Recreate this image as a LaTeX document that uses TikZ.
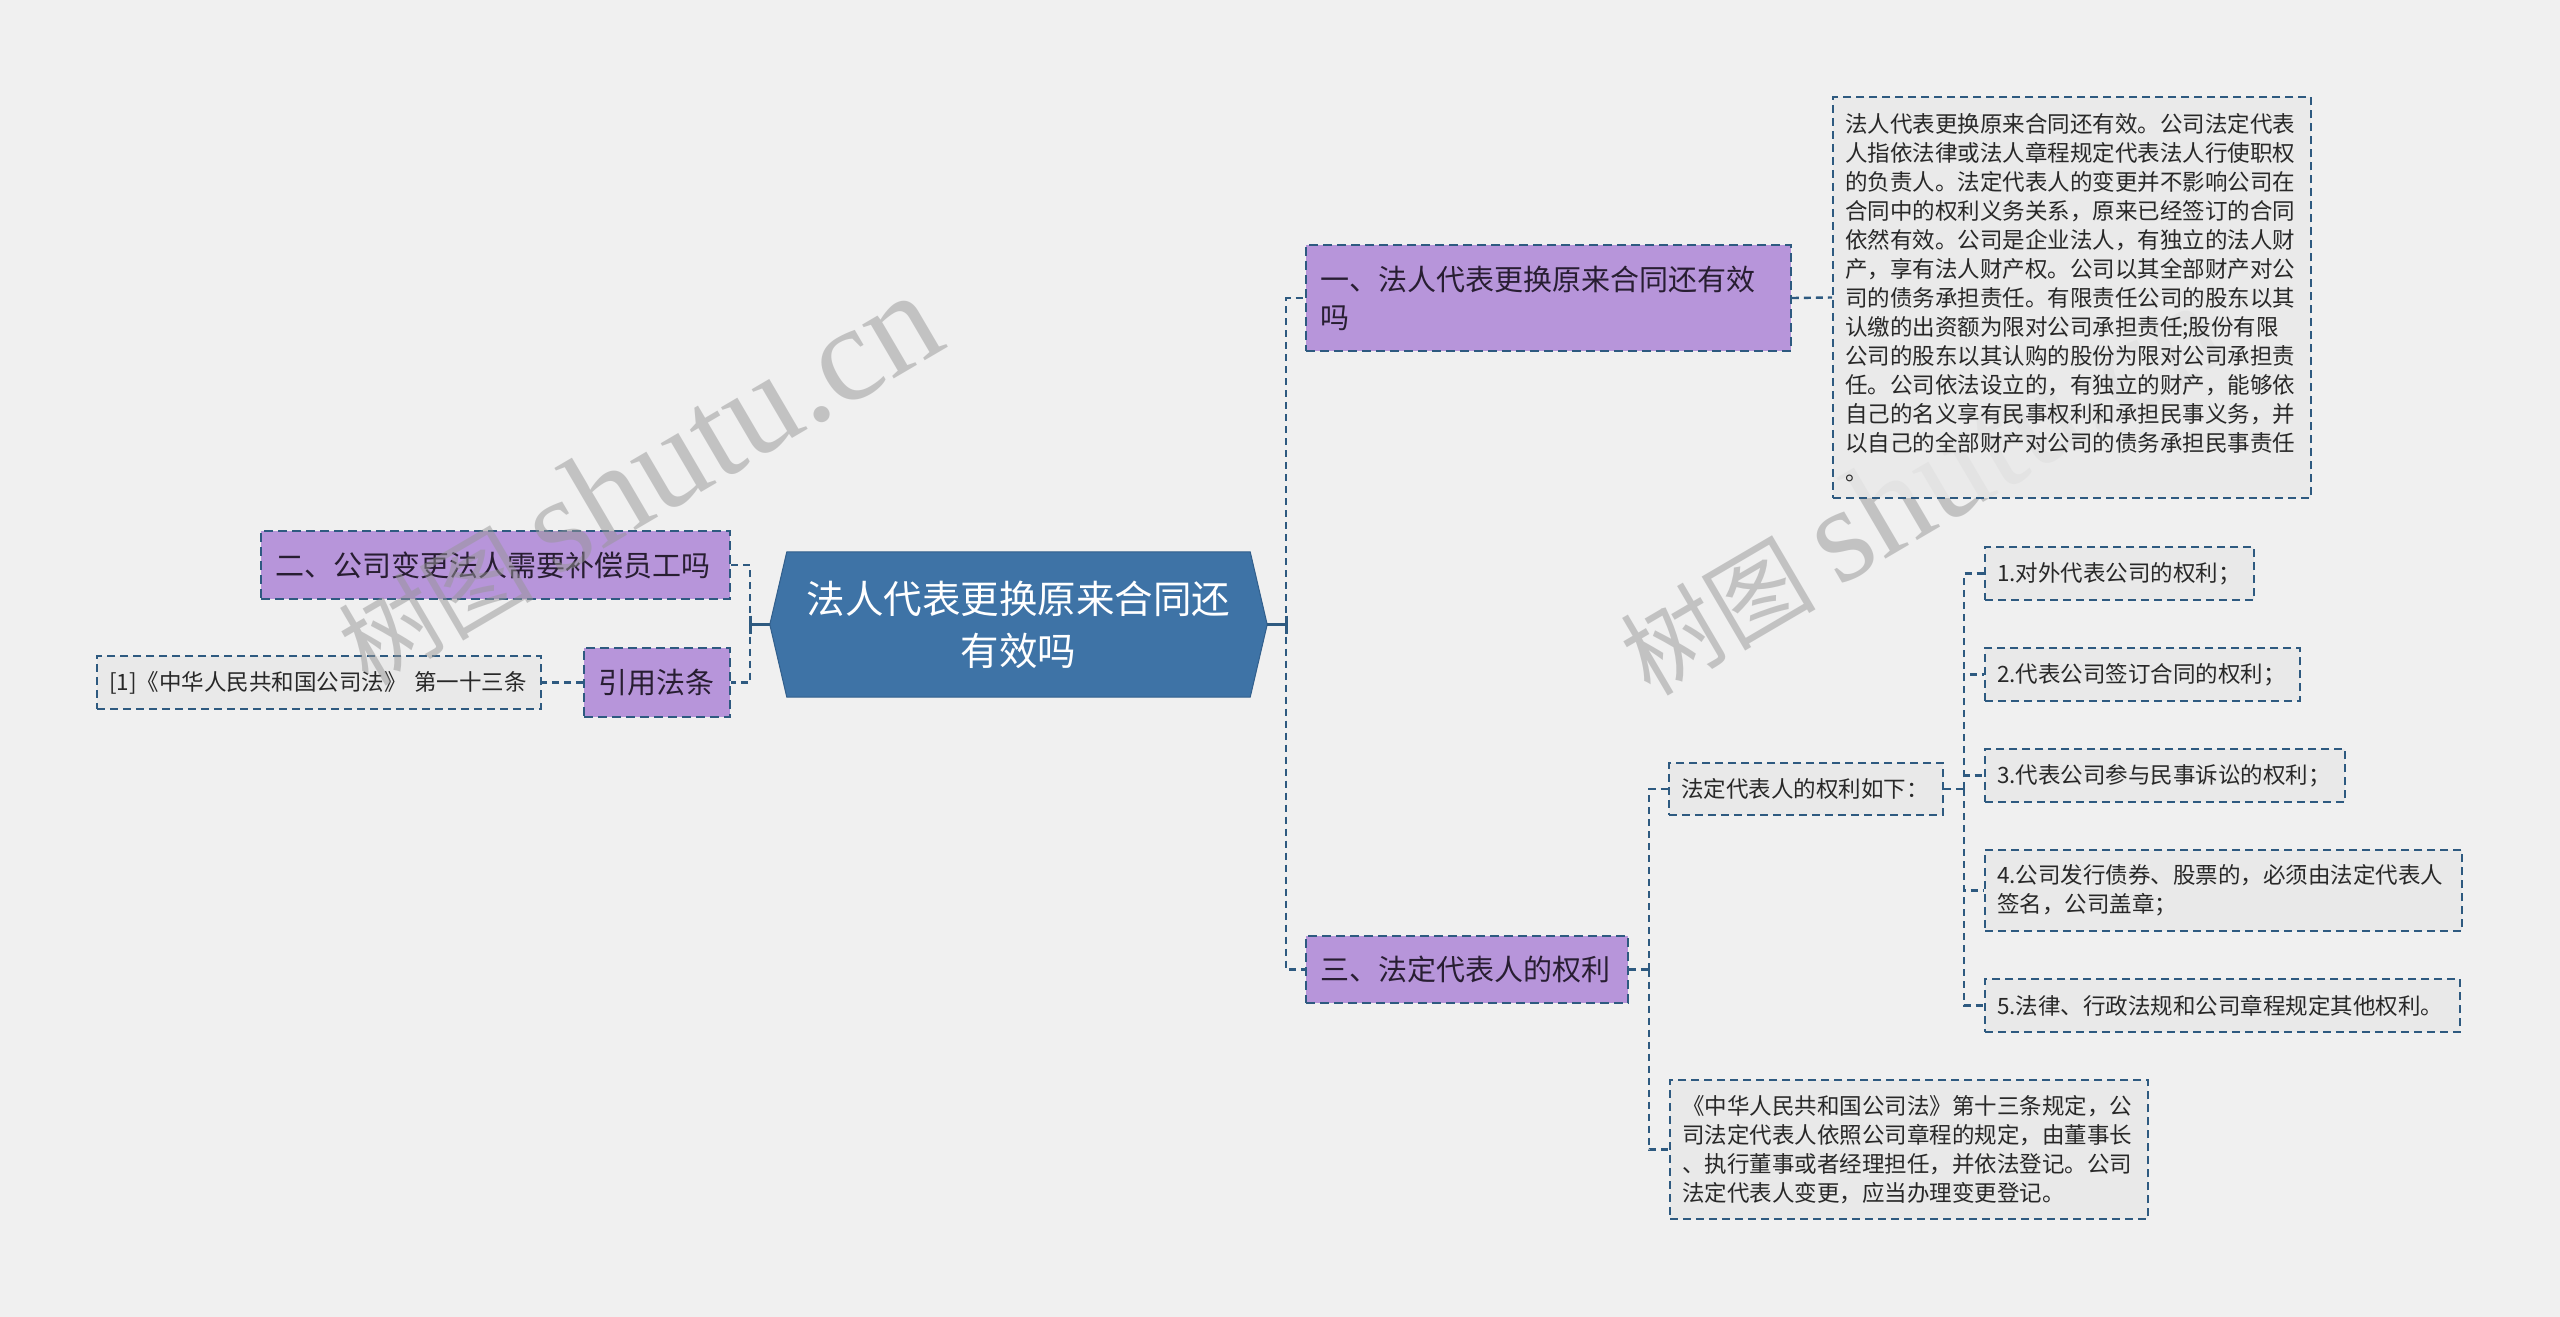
\documentclass[tikz,border=0pt]{standalone}
\usepackage{fontspec}
\setmainfont{Noto Sans CJK SC}
\newfontfamily\wmfont{Liberation Serif}
\definecolor{bgcol}{RGB}{240,240,240}
\definecolor{ctrcol}{RGB}{62,115,166}
\definecolor{ctrborder}{RGB}{50,95,140}
\definecolor{purplecol}{RGB}{183,149,218}
\definecolor{bordercol}{RGB}{46,90,128}
\definecolor{linecol}{RGB}{46,90,128}
\definecolor{leafcol}{RGB}{233,233,233}
\definecolor{ptext}{RGB}{40,30,50}
\definecolor{leaftext}{RGB}{40,40,40}
\definecolor{wmcol}{RGB}{150,150,150}
\tikzset{
  purple/.style={fill=purplecol, draw=bordercol, line width=1.8pt, dash pattern=on 9pt off 5pt,
    text=ptext, font=\fontsize{29}{38}\selectfont, inner xsep=14pt, inner ysep=0pt, align=left},
  leaf/.style={fill=leafcol, draw=bordercol, line width=1.6pt, dash pattern=on 8pt off 5pt,
    text=leaftext, font=\fontsize{22.5}{29}\selectfont, inner xsep=12pt, inner ysep=0pt, align=left},
  conn/.style={draw=linecol, line width=2.4pt, dash pattern=on 7pt off 5pt},
  stub/.style={draw=linecol, line width=3pt},
  wm/.style={text=wmcol, text opacity=0.5, inner sep=0pt},
}
\begin{document}
\begin{tikzpicture}[x=1pt,y=-1pt]
\fill[bgcol] (0,0) rectangle (2560,1317);
\useasboundingbox (0,0) rectangle (2560,1317);

% central node
\node[minimum width=497pt, minimum height=145pt, inner sep=0pt, text=white, align=center,
      font=\fontsize{38.5}{52}\selectfont] (ctr) at (1018.5,624.5) {};
\fill[ctrcol, draw=ctrborder, line width=1pt] (ctr.west) -- ([xshift=17pt]ctr.north west) -- ([xshift=-17pt]ctr.north east)
   -- (ctr.east) -- ([xshift=-17pt]ctr.south east) -- ([xshift=17pt]ctr.south west) -- cycle;
\node[text=white, align=center, font=\fontsize{38.5}{52}\selectfont, inner sep=0pt] (ctrtext) at (ctr.center) {法人代表更换原来合同还\\有效吗};

% first-level nodes
\node[purple, text width=457pt, minimum height=106pt] (n1) at (1548.5,298) {一、法人代表更换原来合同还有效\\吗};
\node[purple, text width=441pt, minimum height=68pt] (n2) at (495.5,565) {二、公司变更法人需要补偿员工吗};
\node[purple, text width=294pt, minimum height=67pt] (n3) at (1467,969.5) {三、法定代表人的权利};
\node[purple, text width=118pt, minimum height=69pt] (nq) at (657,682.5) {引用法条};

% leaves
\node[leaf, text width=420pt, minimum height=53pt] (cite) at (319,682.5) {[1]《中华人民共和国公司法》 第一十三条};
\node[leaf, text width=250pt, minimum height=52pt] (rights) at (1806,789) {法定代表人的权利如下：};
\node[leaf, text width=245pt, minimum height=53pt] (b1) at (2119.5,573.5) {1.对外代表公司的权利；};
\node[leaf, text width=291pt, minimum height=53pt] (b2) at (2142.5,674.5) {2.代表公司签订合同的权利；};
\node[leaf, text width=336pt, minimum height=53pt] (b3) at (2165,775.5) {3.代表公司参与民事诉讼的权利；};
\node[leaf, text width=453pt, minimum height=81pt] (b4) at (2223.5,890.5) {4.公司发行债券、股票的，必须由法定代表人\\签名，公司盖章；};
\node[leaf, text width=451pt, minimum height=53pt] (b5) at (2222.5,1005.5) {5.法律、行政法规和公司章程规定其他权利。};
\node[leaf, text width=454pt, minimum height=139pt] (law) at (1909,1149.5) {《中华人民共和国公司法》第十三条规定，公\\司法定代表人依照公司章程的规定，由董事长\\、执行董事或者经理担任，并依法登记。公司\\法定代表人变更，应当办理变更登记。};

% junction points
\coordinate (jl) at (750,624.5);
\coordinate (jr) at (1286,624.5);
\coordinate (j3) at (1649,969.5);
\coordinate (j4) at (1964,789);

% connectors left
\draw[stub] (ctr.west) -- (jl);
\draw[stub] ([yshift=9pt]jl) -- ([yshift=-9pt]jl);
\draw[conn] (jl) |- (n2.east);
\draw[conn] (jl) |- (nq.east);
\draw[conn] (nq.west) -- (cite.east);

% connectors right
\draw[stub] (ctr.east) -- (jr);
\draw[stub] ([yshift=9pt]jr) -- ([yshift=-9pt]jr);
\draw[conn] (jr) |- (n1.west);
\draw[conn] (jr) |- (n3.west);
\draw[conn] (n3.east) -- (j3);
\draw[conn] (j3) |- (rights.west);
\draw[conn] (j3) |- (law.west);
\draw[conn] (rights.east) -- (j4);
\draw[conn] (j4) |- (b1.west);
\draw[conn] (j4) |- (b2.west);
\draw[conn] (j4) |- (b3.west);
\draw[conn] (j4) |- (b4.west);
\draw[conn] (j4) |- (b5.west);

% watermarks
\node[wm, anchor=base west, rotate=30.4] (wm1) at (368,688) {{\fontsize{98}{98}\selectfont 树图}\hspace{22pt}{\wmfont\fontsize{136}{136}\selectfont shutu.cn}};
\node[wm, anchor=base west, rotate=30.4] (wm2) at (1650,698) {{\fontsize{98}{98}\selectfont 树图}\hspace{22pt}{\wmfont\fontsize{136}{136}\selectfont shutu.cn}};

% big text box (over watermark, slightly translucent)
\node[leaf, fill opacity=0.85, text opacity=1, text width=454pt, minimum height=401pt] (big) at (2072,297.5) {法人代表更换原来合同还有效。公司法定代表\\人指依法律或法人章程规定代表法人行使职权\\的负责人。法定代表人的变更并不影响公司在\\合同中的权利义务关系，原来已经签订的合同\\依然有效。公司是企业法人，有独立的法人财\\产，享有法人财产权。公司以其全部财产对公\\司的债务承担责任。有限责任公司的股东以其\\认缴的出资额为限对公司承担责任;股份有限\\公司的股东以其认购的股份为限对公司承担责\\任。公司依法设立的，有独立的财产，能够依\\自己的名义享有民事权利和承担民事义务，并\\以自己的全部财产对公司的债务承担民事责任\\。};
\draw[conn] (n1.east) -- (big.west);
\end{tikzpicture}
\end{document}
